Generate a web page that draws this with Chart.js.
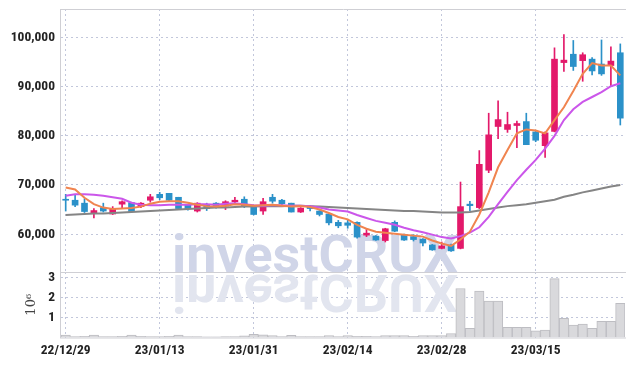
<!DOCTYPE html>
<html><head><meta charset="utf-8">
<script src="https://cdn.jsdelivr.net/npm/chart.js@4.4.1/dist/chart.umd.min.js"></script>
<style>
html,body{margin:0;padding:0;background:#fff;}
#wrap{position:relative;width:634px;height:366px;overflow:hidden;}
.box{position:absolute;left:0;width:634px;}
</style></head><body>
<div id="wrap">
  <div class="box" style="top:0;height:272px"><canvas id="c1" width="634" height="272"></canvas></div>
  <div class="box" style="top:272px;height:94px"><canvas id="c2" width="634" height="94"></canvas></div>
</div>
<script>
// ---- data ----
const dates = ['22/12/29','23/01/02','23/01/03','23/01/04','23/01/05','23/01/06','23/01/09','23/01/10','23/01/11','23/01/12',
 '23/01/13','23/01/16','23/01/17','23/01/18','23/01/19','23/01/20','23/01/25','23/01/26','23/01/27','23/01/30',
 '23/01/31','23/02/01','23/02/02','23/02/03','23/02/06','23/02/07','23/02/08','23/02/09','23/02/10','23/02/13',
 '23/02/14','23/02/15','23/02/16','23/02/17','23/02/20','23/02/21','23/02/22','23/02/23','23/02/24','23/02/27',
 '23/02/28','23/03/02','23/03/03','23/03/06','23/03/07','23/03/08','23/03/09','23/03/10','23/03/13','23/03/14',
 '23/03/15','23/03/16','23/03/17','23/03/20','23/03/21','23/03/22','23/03/23','23/03/24','23/03/27','23/03/28'];
const openP = [67100,66900,66300,64250,65400,64100,66100,66400,65600,66900,
 68100,68300,67500,65900,64700,66000,66300,65700,66600,67100,
 65800,64700,67500,66900,66300,64500,65700,64700,64100,62400,
 62300,62400,59800,59600,58700,62400,59900,59500,59000,57800,
 57100,57800,57100,66100,65400,73000,81900,81300,82100,82900,
 80800,78000,80900,94900,96600,95300,95600,94600,94300,96900];
const highP = [68100,68100,67200,65200,66300,65600,66800,66500,66400,68100,
 68500,68300,67500,66000,66400,66300,66400,66800,67500,67600,
 65800,67300,68100,67100,66300,65400,65800,64800,64200,62800,
 62900,62500,61000,59700,61200,62700,60000,59900,59100,57900,
 58400,58000,70600,66700,77000,84600,87100,84800,83000,84600,
 80900,80800,97900,100600,99400,96900,95900,99500,98100,98700];
const lowP = [64700,65600,64400,63300,64500,64000,65400,64500,65400,66500,
 67000,66800,65000,64900,64500,64800,65300,65000,66200,65400,
 63900,64000,66300,65700,64500,64400,64700,63700,61900,61300,
 61200,59200,59500,58700,58400,60500,58700,58600,57600,56700,
 57000,56500,57000,64700,65200,72500,79400,80700,77600,78200,
 78800,75600,80800,93100,93300,91100,92400,92300,90100,82200];
const closeP = [66900,65900,64600,64800,64700,65200,66600,64600,66300,67600,
 67400,66900,65200,65200,66300,65200,65800,66600,66900,65600,
 64000,66600,66700,66200,64500,65300,65200,64000,62300,61700,
 61800,59400,60200,58800,61100,60600,58800,58900,58200,56800,
 57600,56600,65600,65800,74200,80200,83300,82300,82500,78200,
 79100,80600,95600,95400,94100,96500,93200,92600,95200,83600];
const volume = [120000,50000,60000,120000,50000,50000,60000,120000,60000,50000,
 50000,60000,120000,50000,50000,40000,40000,50000,50000,80000,
 160000,140000,100000,50000,110000,50000,50000,50000,100000,50000,
 100000,60000,60000,50000,100000,100000,100000,60000,100000,100000,
 100000,200000,2470000,460000,2340000,1830000,1830000,510000,510000,510000,
 330000,380000,2970000,960000,630000,680000,460000,810000,810000,1720000];
const ma5 = [69500,69100,67400,66100,65400,65100,65200,65300,65600,66200,
 66600,66700,66700,66400,66000,65700,65600,65800,66100,66000,
 65800,65900,66000,65800,65600,65700,65500,65000,64300,63500,
 63000,61900,61100,60500,60300,60100,59900,59700,59500,58700,
 58100,57600,58900,60500,64000,68500,73600,77100,80500,81300,
 81100,80500,83200,85800,89100,92600,94800,94300,94300,92300];
const ma10 = [67800,68100,68100,68000,67800,67500,67200,66400,66000,65900,
 65900,66000,66000,66000,66100,66100,66000,66200,66300,66100,
 65900,65800,65900,65900,65800,65800,65700,65400,65000,64800,
 64600,63900,63300,62700,62300,61900,61300,60800,60400,59900,
 59400,59100,59600,60300,61400,63500,66100,68600,71000,73100,
 75100,77400,80000,83200,85400,86900,87900,88900,90100,90700];
const maLong = [63900,64000,64100,64200,64200,64300,64400,64500,64600,64700,
 64800,64900,65000,65100,65200,65300,65400,65400,65500,65600,
 65600,65700,65700,65700,65800,65800,65700,65600,65500,65400,
 65300,65200,65100,65000,64900,64800,64700,64700,64600,64500,
 64400,64400,64400,64500,64800,65100,65400,65700,65900,66100,
 66400,66700,67000,67600,68000,68500,68900,69300,69700,70000];
const priceTicks = [60000,70000,80000,90000,100000];
const volumeTicks = [1000000,2000000,3000000];

// ---- styling ----
const UP = '#e3196a', DOWN = '#2b91c9';
const GRID = '#c2c7db', FRAME = '#cfcfd4';
const FONT = "'Roboto Condensed','DejaVu Sans Condensed',sans-serif";
const tickFont = {family: FONT, size: 13.5, weight: 'bold'};
const TICKCOLOR = '#222';
const labelEvery = 10;
const gridColorFn = (c) => (c.index % labelEvery === 0 ? GRID : 'rgba(0,0,0,0)');
const bodyColors = openP.map((o, i) => (closeP[i] >= o ? UP : DOWN));
const fitY = (s) => { s.width = 61; s.paddingTop = 0; s.paddingBottom = 0; s.paddingLeft = 0; s.paddingRight = 0; };
const fitX = (h) => (s) => { s.height = h; s.paddingLeft = 0; s.paddingRight = 0; s.paddingTop = 0; s.paddingBottom = 0; };

const WM = 'investCRUX';
function drawMark(ctx, x, baseline, width, color, mirrorY) {
  ctx.save();
  ctx.font = 'bold 52px Roboto, "DejaVu Sans", sans-serif';
  const w = ctx.measureText(WM).width;
  if (mirrorY !== undefined) { ctx.translate(0, 2 * mirrorY); ctx.scale(1, -1); }
  ctx.translate(x, baseline);
  ctx.scale(width / w, 1);
  ctx.fillStyle = color;
  ctx.textBaseline = 'alphabetic';
  ctx.fillText(WM, 0, 0);
  ctx.restore();
}

const framePlugin = {
  id: 'frame',
  afterDraw(chart, args, o) {
    const {ctx, chartArea: a} = chart;
    ctx.save();
    ctx.strokeStyle = FRAME; ctx.lineWidth = 1;
    ctx.beginPath();
    ctx.moveTo(a.left, a.top + 0.5); ctx.lineTo(a.right + 1, a.top + 0.5);
    if (o.bottom) { ctx.moveTo(a.left, a.bottom + 0.5); ctx.lineTo(a.right + 1, a.bottom + 0.5); }
    ctx.moveTo(a.left - 0.5, a.top); ctx.lineTo(a.left - 0.5, a.bottom + 1);
    ctx.stroke();
    ctx.restore();
  }
};
const markPlugin = {
  id: 'mark',
  beforeDatasetsDraw(chart, args, o) {
    if (o.mirror) drawMark(chart.ctx, 172, 2.5, 286, '#e2e5ef', 2.5);
    else drawMark(chart.ctx, 172, 272, 286, '#d0d5e8');
  }
};

new Chart(document.getElementById('c1'), {
  type: 'bar',
  data: {
    labels: dates,
    datasets: [
      {type: 'line', data: ma5, borderColor: '#f0844f', borderWidth: 2, pointRadius: 0, tension: 0, order: 0},
      {type: 'line', data: ma10, borderColor: '#cb56ea', borderWidth: 2, pointRadius: 0, tension: 0, order: 0},
      {type: 'line', data: maLong, borderColor: '#858585', borderWidth: 2, pointRadius: 0, tension: 0, order: 0},
      {type: 'bar', data: openP.map((o, i) => [o, closeP[i]]), backgroundColor: bodyColors, barThickness: 6, grouped: false, order: 1},
      {type: 'bar', data: lowP.map((l, i) => [l, highP[i]]), backgroundColor: bodyColors, barThickness: 1, grouped: false, order: 2}
    ]
  },
  options: {
    responsive: false, animation: false,
    layout: {autoPadding: false, padding: {top: 9, right: 9, left: 0, bottom: 0}},
    plugins: {legend: {display: false}, tooltip: {enabled: false}, frame: {bottom: false}, mark: {mirror: false}},
    scales: {
      x: {
        offset: true,
        grid: {offset: false, color: gridColorFn, drawTicks: false},
        border: {display: false, dash: [2, 3]},
        ticks: {display: false, autoSkip: false},
        afterFit: fitX(0)
      },
      y: {
        min: 52300, max: 105800,
        afterBuildTicks: (s) => { s.ticks = priceTicks.map(v => ({value: v})); },
        afterFit: fitY,
        grid: {color: GRID, drawTicks: false},
        border: {display: false, dash: [2, 3]},
        ticks: {padding: 6, font: tickFont, color: TICKCOLOR, callback: (v) => Number(v).toLocaleString('en-US')}
      }
    }
  },
  plugins: [framePlugin, markPlugin]
});

new Chart(document.getElementById('c2'), {
  type: 'bar',
  data: {
    labels: dates,
    datasets: [{data: volume, backgroundColor: '#d9d9dc', borderColor: '#bdbdc2', borderWidth: 1,
      barPercentage: 1, categoryPercentage: 1}]
  },
  options: {
    responsive: false, animation: false,
    layout: {autoPadding: false, padding: {top: 0, right: 9, left: 0, bottom: 0}},
    plugins: {legend: {display: false}, tooltip: {enabled: false}, frame: {bottom: true}, mark: {mirror: true}},
    scales: {
      x: {
        offset: true,
        grid: {offset: false, color: gridColorFn, drawTicks: false},
        border: {display: false, dash: [2, 3]},
        ticks: {autoSkip: false, maxRotation: 0, padding: 5, font: tickFont, color: TICKCOLOR,
          callback: function (v, i) { return i % labelEvery === 0 ? dates[i] : ''; }},
        afterFit: fitX(28.5)
      },
      y: {
        min: 0, max: 3300000,
        afterBuildTicks: (s) => { s.ticks = volumeTicks.map(v => ({value: v})); },
        afterFit: fitY,
        grid: {color: GRID, drawTicks: false},
        border: {display: false, dash: [2, 3]},
        title: {display: true, text: '10⁶', color: '#444', font: {family: "'DejaVu Serif', serif", size: 13}, padding: {top: 24, bottom: 0}},
        ticks: {padding: 6, font: tickFont, color: TICKCOLOR, callback: (v) => String(v / 1000000)}
      }
    }
  },
  plugins: [framePlugin, markPlugin]
});
</script>
</body></html>
